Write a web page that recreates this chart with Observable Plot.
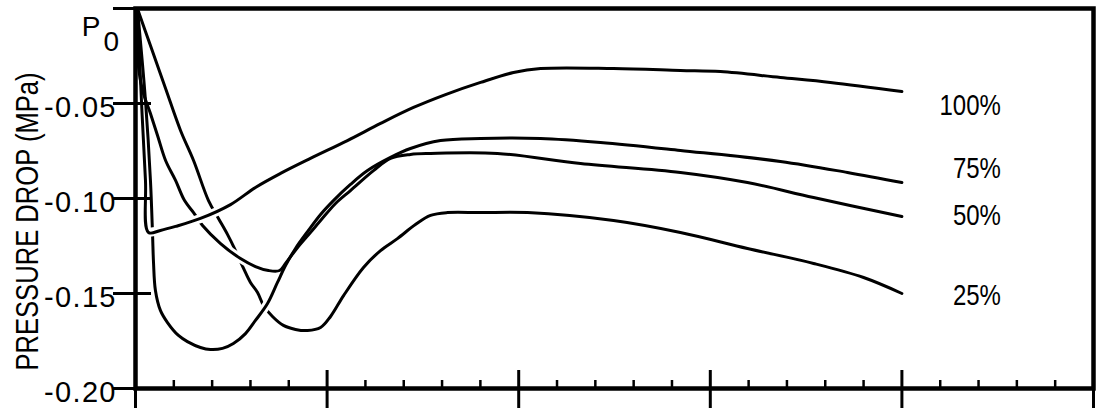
<!DOCTYPE html>
<html>
<head>
<meta charset="utf-8">
<script src="https://cdn.jsdelivr.net/npm/d3@7"></script>
<script src="https://cdn.jsdelivr.net/npm/@observablehq/plot@0.6"></script>
<style>
  html, body { margin: 0; padding: 0; background: #fff; }
  #chart svg { display: block; }
</style>
</head>
<body>
<div id="chart"></div>
<script>
// Pressure drop below P0 over time, one curve per opening percentage.
const seriesNames = ["100%", "75%", "50%", "25%"];

const x100 = [0.010, 0.031, 0.052, 0.068, 0.130, 0.209, 0.339, 0.496, 0.626, 0.757, 0.913, 1.106, 1.279, 1.451, 1.618, 1.801, 1.973, 2.114, 2.495, 2.844, 3.053, 3.366, 3.627, 4.0];
const y100 = [0, -0.0484, -0.0905, -0.1179, -0.1168, -0.1147, -0.1105, -0.1032, -0.0942, -0.0868, -0.0789, -0.0695, -0.0605, -0.0521, -0.0453, -0.0389, -0.0337, -0.0316, -0.0316, -0.0326, -0.0332, -0.0363, -0.0389, -0.0437];

const x75 = [0.010, 0.052, 0.078, 0.089, 0.094, 0.104, 0.130, 0.167, 0.224, 0.271, 0.339, 0.391, 0.454, 0.511, 0.574, 0.626, 0.689, 0.741, 0.783, 0.835, 0.898, 0.966, 1.033, 1.122, 1.211, 1.331, 1.435, 1.592, 1.801, 2.114, 2.427, 2.844, 3.366, 3.716, 4.0];
const y75 = [0, -0.0484, -0.0905, -0.1189, -0.1337, -0.1484, -0.1589, -0.1653, -0.1721, -0.1753, -0.1784, -0.1795, -0.1789, -0.1763, -0.1711, -0.1642, -0.1553, -0.1442, -0.1353, -0.1263, -0.1174, -0.1084, -0.1011, -0.0926, -0.0853, -0.0784, -0.0737, -0.0695, -0.0684, -0.0684, -0.0705, -0.0747, -0.0805, -0.0863, -0.0916];

const x50 = [0.010, 0.016, 0.037, 0.078, 0.115, 0.157, 0.209, 0.256, 0.303, 0.350, 0.444, 0.548, 0.626, 0.694, 0.752, 0.783, 0.846, 0.913, 0.966, 1.044, 1.122, 1.242, 1.331, 1.435, 1.540, 1.889, 2.323, 2.844, 3.194, 3.539, 4.0];
const y50 = [0, -0.0311, -0.0432, -0.0553, -0.0668, -0.0800, -0.0905, -0.1011, -0.1074, -0.1142, -0.1237, -0.1316, -0.1358, -0.1379, -0.1379, -0.1342, -0.1258, -0.1179, -0.1116, -0.1026, -0.0958, -0.0853, -0.0789, -0.0768, -0.0763, -0.0763, -0.0816, -0.0863, -0.0916, -0.0995, -0.1095];

const x25 = [0.010, 0.078, 0.157, 0.235, 0.303, 0.381, 0.433, 0.480, 0.522, 0.564, 0.600, 0.637, 0.668, 0.715, 0.772, 0.835, 0.898, 0.966, 1.018, 1.086, 1.190, 1.279, 1.367, 1.461, 1.540, 1.628, 1.801, 2.046, 2.495, 2.844, 3.194, 3.539, 3.800, 4.0];
const y25 = [0, -0.0195, -0.0421, -0.0642, -0.0800, -0.1011, -0.1105, -0.1189, -0.1274, -0.1368, -0.1442, -0.1495, -0.1563, -0.1621, -0.1668, -0.1689, -0.1695, -0.1679, -0.1621, -0.1511, -0.1363, -0.1274, -0.1211, -0.1137, -0.1089, -0.1074, -0.1074, -0.1074, -0.1116, -0.1179, -0.1263, -0.1342, -0.1416, -0.1500];

// Series label heights (MPa) beside the right ends of the curves
const labelY = [-0.0511, -0.0842, -0.1089, -0.1511];

const yTicks = [0, -0.05, -0.10, -0.15, -0.20];
const yTickLabels = ["", "-0.05", "-0.10", "-0.15", "-0.20"];
const xMajorTicks = [0, 1, 2, 3, 4, 5];
const yTitle = "PRESSURE DROP (MPa)";
const originLabel = "P";
const originSub = "0";

const xs = [x100, x75, x50, x25];
const ys = [y100, y75, y50, y25];
const table = [];
seriesNames.forEach((s, k) => xs[k].forEach((x, i) => table.push({series: s, x, y: ys[k][i]})));

const xMinorTicks = d3.range(0, 5, 0.2).filter(v => Math.abs(v - Math.round(v)) > 1e-6);

const W = 1097, H = 412;
const mL = 135, mR = 4, mT = 8, mB = 24;
const font = "'Liberation Sans', Arial, sans-serif";

// Curves are drawn lowest first; where a later curve crosses an earlier one,
// a white underlay breaks the earlier curve, as in a hand-inked drawing.
const curve = "catmull-rom";
const lineOf = s => Plot.line(table, {filter: d => d.series === s, x: "x", y: "y", curve, stroke: "black", strokeWidth: 3});
const breakUnder = (s, x0, x1) => Plot.line(table, {
  filter: d => d.series === s && d.x >= x0 && d.x <= x1,
  x: "x", y: "y", curve, stroke: "white", strokeWidth: 9
});

const plot = Plot.plot({
  width: W,
  height: H,
  marginLeft: mL,
  marginRight: mR,
  marginTop: mT,
  marginBottom: mB,
  x: {domain: [0, 5], axis: null},
  y: {domain: [-0.2, 0], axis: null},
  style: {background: "white", color: "black", overflow: "visible"},
  marks: [
    // y ticks crossing the left axis
    Plot.ruleY(yTicks, {y: d => d, insetLeft: -22, insetRight: (W - mL - mR) - 16, strokeWidth: 3}),
    // major x ticks crossing the bottom axis
    Plot.ruleX(xMajorTicks, {x: d => d, insetTop: (H - mT - mB) - 18, insetBottom: -20, strokeWidth: 3}),
    // minor x ticks pointing inward
    Plot.ruleX(xMinorTicks, {x: d => d, insetTop: (H - mT - mB) - 8, strokeWidth: 2.5}),
    lineOf("25%"),
    breakUnder("50%", 0.3, 0.7),
    lineOf("50%"),
    breakUnder("75%", 0.6, 0.77),
    lineOf("75%"),
    breakUnder("100%", 0.068, 0.8),
    lineOf("100%"),
    Plot.frame({strokeWidth: 4.5}),
    Plot.text(yTicks, {
      x: 0, y: d => d, text: (d, i) => yTickLabels[i],
      textAnchor: "end", dx: -20, dy: 4,
      fontSize: 29, fontFamily: font
    }),
    Plot.text([originLabel], {x: 0, y: 0, text: d => d, textAnchor: "end", dx: -35, dy: 19, fontSize: 28, fontFamily: font}),
    Plot.text([originSub], {x: 0, y: 0, text: d => d, textAnchor: "start", dx: -32, dy: 34, fontSize: 28, fontFamily: font}),
    Plot.text([yTitle], {
      frameAnchor: "left", textAnchor: "middle", text: d => d, rotate: -90,
      dx: -108, dy: 23, fontSize: 32, fontFamily: font
    }),
    Plot.text(seriesNames, {
      x: 4, y: (d, i) => labelY[i], text: d => d,
      textAnchor: "end", dx: 99, fontSize: 30, fontFamily: font
    })
  ]
});

document.getElementById("chart").appendChild(plot);

// Condensed lettering for the axis title: squeeze along the text direction
plot.querySelectorAll("text").forEach(t => {
  if (t.textContent !== yTitle) return;
  const tf = t.getAttribute("transform") || "";
  t.setAttribute("transform", tf + " scale(0.8,1)");
});

// Condensed series labels, looser spacing for tick numbers
function fitText(contents, factor, adjust) {
  plot.querySelectorAll("text").forEach(t => {
    if (!contents.includes(t.textContent)) return;
    const len = t.getComputedTextLength();
    if (len > 0) {
      t.setAttribute("textLength", (len * factor).toFixed(1));
      t.setAttribute("lengthAdjust", adjust);
    }
  });
}
fitText(seriesNames, 0.8, "spacingAndGlyphs");
fitText(yTickLabels.filter(s => s), 1.08, "spacing");
</script>
</body>
</html>
